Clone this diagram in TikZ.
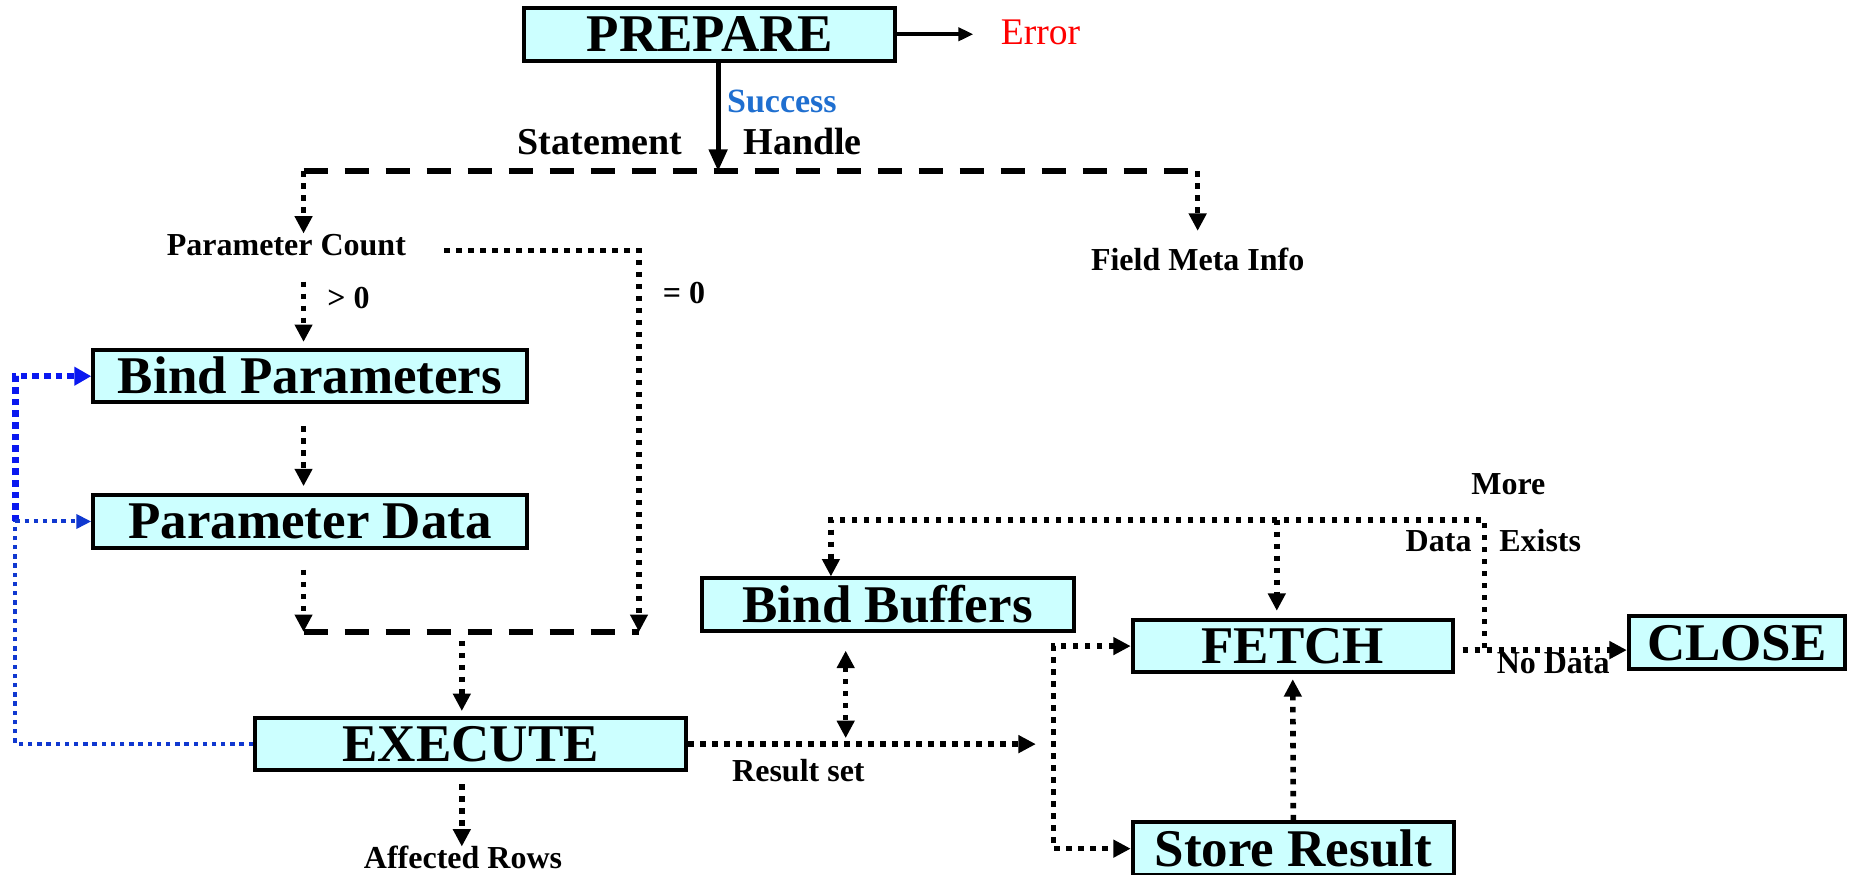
\documentclass[tikz,border=0pt]{standalone}
\usepackage{fontspec}
\setmainfont{Liberation Serif}
\usetikzlibrary{arrows.meta}
\definecolor{boxfill}{HTML}{CCFFFF}
\definecolor{errred}{HTML}{FF0000}
\definecolor{okblue}{HTML}{1F6FD0}
\definecolor{loopblue}{HTML}{0A18F0}
\definecolor{loopbluedark}{HTML}{1038D0}
\newcommand\stagefont{\fontsize{26.5}{30}\selectfont\bfseries}
\newcommand\lblfont{\fontsize{16}{19}\selectfont\bfseries}
\newcommand\midfont{\fontsize{19}{22}\selectfont\bfseries}

\begin{document}
\begin{tikzpicture}[x=0.5906pt, y=-0.5906pt,
  stage/.style={draw, line width=2pt, fill=boxfill, inner sep=0pt,
    text height=17.5pt, text depth=0pt, font=\stagefont, minimum height=26.3pt},
  lbl/.style={inner sep=0pt, font=\lblfont, text height=10.6pt, text depth=0pt, anchor=base},
  dotline/.style={line width=2.8pt, dash pattern=on 2.7pt off 3.3pt},
  flow/.style={dotline, -{Triangle[length=8.7pt,width=8.5pt]}},
  twoway/.style={dotline, {Triangle[length=8.7pt,width=8.5pt]}-{Triangle[length=8.7pt,width=8.5pt]}},
  dashline/.style={line width=3pt, dash pattern=on 12pt off 8.5pt},
  mainarrow/.style={line width=2.5pt, -{Triangle[length=11pt,width=9pt]}},
  errarrow/.style={line width=2pt, -{Triangle[length=7.5pt,width=6.5pt]}},
  bluethick/.style={draw=loopblue, line width=3.2pt, dash pattern=on 3.3pt off 2.5pt},
  bluethin/.style={draw=loopbluedark, line width=2pt, dash pattern=on 2.2pt off 2.4pt},
]
\useasboundingbox (0,0) rectangle (1568,740);

% statement stages
\node[stage, minimum width=185.4pt] (prep)  at (601,29)      {PREPARE};
\node[stage, minimum width=216.8pt] (bindp) at (262.5,318.5) {Bind Parameters};
\node[stage, minimum width=216.8pt] (pdata) at (262.5,441.5) {Parameter Data};
\node[stage, minimum width=215.6pt] (exec)  at (398.5,630)   {EXECUTE};
\node[stage, minimum width=186pt]   (bbuf)  at (751.5,512)   {Bind Buffers};
\node[stage, minimum width=160pt]   (fetch) at (1094.5,547)  {FETCH};
\node[stage, minimum width=160.6pt] (store) at (1095,718.5)  {Store Result};
\node[stage, minimum width=108pt]   (close) at (1470.5,544)  {CLOSE};

% labels
\node[font=\fontsize{18.8}{22}\selectfont, text=errred, inner sep=0pt, anchor=base west] (err) at (847,38) {Error};
\node[lbl, font=\fontsize{17}{20}\selectfont\bfseries, text=okblue] (succ) at (662,95) {Success};
\node[lbl, font=\midfont] (stmt) at (508,131) {Statement};
\node[lbl, font=\midfont] (hdl) at (679.5,131) {Handle};
\node[lbl] (pcount) at (242.5,216) {Parameter Count};
\node[lbl] (fmeta)  at (1014,229) {Field Meta Info};
\node[lbl] (gt)     at (295,261) {> 0};
\node[lbl] (eq)     at (579,257) {= 0};
\node[lbl] (rset)   at (676,662) {Result set};
\node[lbl] (aff)    at (392,735) {Affected Rows};
\node[lbl] (more)   at (1277,419) {More};
\node[lbl] (mdata)  at (1218,467) {Data};
\node[lbl] (exists) at (1304,467) {Exists};
\node[lbl] (nodata) at (1315,570) {No Data};

% junction points
\coordinate (split) at (608,145);
\coordinate (dl) at (257,145);
\coordinate (dr) at (1014,145);
\coordinate (jl) at (257,535);
\coordinate (jr) at (541,535);
\coordinate (jm) at (391,535);
\coordinate (bl) at (13,630);
\coordinate (rsend) at (877,630);
\coordinate (rsmid) at (716,630);
\coordinate (brk) at (892,630);
\coordinate (lp) at (1257,440);
\coordinate (lb) at (703.5,440);
\coordinate (lf) at (1081,440);

% prepare
\draw[errarrow, shorten >=13.5pt] (prep.east) -- (prep.east -| err.west);
\draw[mainarrow] (prep.south -| split) -- (split);
\draw[dashline] (dl) -- (dr);
\draw[flow] (dl) -- (dl |- pcount.north);
\draw[flow, shorten >=9pt] (dr) -- (dr |- fmeta.north);

% parameters
\draw[flow, shorten <=13pt, shorten >=3pt] (pcount.south -| dl) -- (bindp.north -| dl);
\draw[flow, shorten <=19pt] ([yshift=-3pt]pcount.east) -- ([yshift=-3pt]pcount.east -| jr) -- (jr);
\draw[flow, shorten <=11pt, shorten >=3.5pt] (bindp.south -| dl) -- (pdata.north -| dl);
\draw[flow, shorten <=10pt] (pdata.south -| dl) -- (jl);
\draw[dashline] (jl) -- (jr);

% execute
\draw[flow, shorten <=4.5pt, shorten >=2.4pt] (jm) -- (jm |- exec.north);
\draw[flow, shorten <=6pt] (exec.south -| jm) -- (aff.north -| jm);

% re-execution loop
\draw[bluethin] (exec.west) -- (exec.west -| bl) -- (bl |- pdata.west);
\draw[bluethick, -{Triangle[length=8.5pt,width=9pt,fill=loopblue]}] (bl |- pdata.west) -- (bl |- bindp.west) -- (bindp.west);
\draw[bluethin, -{Triangle[length=7.5pt,width=7pt,fill=loopbluedark]}] (bl |- pdata.west) -- (pdata.west);

% result set
\draw[flow] (exec.east) -- (rsend);
\draw[twoway, shorten <=8.8pt, shorten >=3pt] (bbuf.south -| rsmid) -- (rsmid);
\draw[twoway] (fetch.west) -- (fetch.west -| brk) -- (store.west -| brk) -- (store.west);
\draw[flow, shorten >=2.4pt] (store.north) -- (fetch.south);

% fetch loop
\draw[flow, shorten <=4pt] ([yshift=-2pt]fetch.east) -- ([yshift=-2pt]fetch.east -| lp) -- (lp) -- (lb) -- (lb |- bbuf.north);
\draw[flow, shorten >=3.5pt] (lf) -- (lf |- fetch.north);
\draw[flow, shorten <=4pt] ([yshift=-2pt]fetch.east) -- ([yshift=-2pt]fetch.east -| close.west);
\end{tikzpicture}
\end{document}
